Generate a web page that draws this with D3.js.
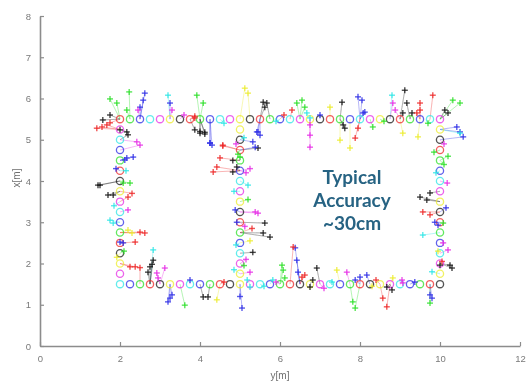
<!DOCTYPE html>
<html>
<head>
<meta charset="utf-8">
<script src="https://cdn.jsdelivr.net/npm/d3@7"></script>
<style>
    body { margin: 0; background: #fff; }
    .tick text { font-family: "Liberation Sans", Arial, sans-serif; }
</style>
</head>
<body>
<div id="chart-area"></div>
<script>
const BASE_WIDTH = 529;
const BASE_HEIGHT = 382;
// matlab colour order r g b c m y k
const SERIES_COLORS = ['#ee2a2a', '#2ee02a', '#2f2fe6', '#2fe6e6', '#e62fe6', '#ecec2f', '#1a1a1a'];

const X_TICKS = [0, 2, 4, 6, 8, 10, 12];
const Y_TICKS = [0, 1, 2, 3, 4, 5, 6, 7, 8];

// reference points (circles): rows at x = 5.5 and x = 1.5, columns at y = 2, 5, 10
const ROW_Y = [2, 2.25, 2.5, 2.75, 3, 3.25, 3.5, 3.75, 4, 4.25, 4.5, 4.75, 5, 5.25, 5.5, 5.75, 6,
    6.25, 6.5, 6.75, 7, 7.25, 7.5, 7.75, 8, 8.25, 8.5, 8.75, 9, 9.25, 9.5, 9.75, 10];
const COL_X = [5.25, 5, 4.75, 4.5, 4.25, 4, 3.75, 3.5, 3.25, 3, 2.75, 2.5, 2.25, 2, 1.75];
const TOP_ROW_X = 5.5;
const BOTTOM_ROW_X = 1.5;
const COLUMN_Y = [10, 2, 5]; // right, left, middle

// estimated positions (+): [y, x, colour index]
const ESTIMATES = [
    [1.42, 5.28, 0], [1.55, 5.31, 0], [1.67, 5.36, 0], [1.75, 5.41, 0],
    [1.75, 5.6, 6], [1.57, 5.48, 6], [2.0, 5.24, 6], [2.17, 5.19, 6], [2.2, 5.12, 6],
    [1.75, 5.99, 1], [1.92, 5.89, 1], [2.23, 6.16, 1], [2.17, 5.72, 1],
    [2.62, 6.13, 2], [2.58, 5.96, 2], [2.5, 5.79, 2], [2.45, 5.72, 4],
    [3.2, 6.08, 3], [3.25, 5.89, 2], [3.3, 5.72, 4],
    [3.92, 6.08, 1], [4.08, 5.89, 1], [3.87, 5.53, 0],
    [3.87, 5.24, 6], [4.0, 5.16, 6], [4.12, 5.14, 6],
    [4.3, 4.87, 2], [4.25, 4.92, 2], [4.57, 4.87, 0], [4.5, 4.56, 0], [4.42, 4.34, 0], [4.33, 4.22, 0],
    [4.82, 4.5, 6], [4.92, 4.34, 6], [4.82, 4.22, 6], [5.0, 4.58, 1], [4.95, 4.65, 1],
    [2.42, 4.95, 4], [2.5, 4.87, 4], [2.17, 4.56, 2], [2.33, 4.58, 2], [2.12, 4.51, 2],
    [1.45, 3.9, 6], [1.7, 3.66, 6], [1.83, 3.66, 6], [1.5, 3.9, 6],
    [2.08, 3.95, 1], [2.25, 3.95, 1], [2.3, 3.7, 0], [2.2, 3.61, 0],
    [1.75, 3.05, 3], [1.83, 2.98, 3], [2.0, 2.52, 2], [2.08, 2.5, 2],
    [2.2, 2.81, 5], [2.3, 2.74, 5], [2.5, 2.76, 0], [2.62, 2.74, 0], [2.38, 2.52, 0],
    [2.83, 2.33, 3], [2.75, 1.92, 6], [2.83, 2.08, 6], [2.7, 1.79, 6], [2.8, 1.98, 6],
    [2.25, 1.92, 0], [2.38, 1.92, 0], [2.5, 1.9, 0],
    [2.92, 1.77, 4], [2.95, 1.65, 4], [3.12, 1.89, 4],
    [3.25, 1.16, 2], [3.2, 1.07, 2], [3.3, 1.24, 2], [3.62, 0.99, 1],
    [4.08, 1.19, 6], [4.2, 1.19, 6], [4.42, 1.12, 5],
    [5.0, 1.2, 2], [5.05, 0.92, 2], [5.25, 1.79, 4],
    [6.05, 1.96, 1], [6.08, 1.84, 1], [6.38, 2.38, 2], [6.42, 2.08, 2], [6.45, 1.79, 2],
    [6.33, 2.4, 0], [6.55, 1.67, 0], [6.62, 1.72, 0],
    [6.92, 1.89, 6], [6.82, 1.6, 6], [6.75, 1.43, 6], [6.12, 1.65, 1], [5.82, 1.6, 3],
    [7.42, 1.84, 5], [7.67, 1.79, 4], [7.88, 1.6, 2], [8.0, 1.67, 2], [8.17, 1.72, 2],
    [7.82, 1.07, 1], [7.88, 0.92, 1], [8.57, 1.16, 0], [8.67, 0.95, 0],
    [8.67, 1.43, 6], [8.8, 1.36, 6], [8.82, 1.65, 5], [9.05, 1.6, 4], [9.07, 1.53, 4],
    [9.37, 1.55, 2], [9.75, 1.24, 2], [9.8, 1.16, 2], [9.75, 1.04, 1],
    [10.0, 1.96, 6], [10.25, 1.96, 6], [10.3, 1.89, 6],
    [5.38, 3.25, 4], [5.45, 3.22, 4], [5.62, 2.98, 6], [5.75, 2.64, 6], [5.58, 2.74, 6],
    [5.25, 2.55, 5], [5.32, 2.27, 6], [5.18, 1.6, 3], [5.25, 1.43, 3], [4.92, 3.0, 2],
    [5.45, 5.19, 2], [5.32, 4.95, 2], [5.45, 4.8, 6], [5.25, 4.3, 4], [5.2, 3.9, 3],
    [9.5, 3.61, 6], [9.67, 3.54, 6], [9.75, 3.71, 6], [9.57, 3.25, 0], [9.75, 3.18, 0],
    [9.87, 3.0, 2], [9.95, 2.93, 2], [10.08, 2.98, 1], [9.57, 2.69, 3],
    [10.08, 2.5, 4], [10.2, 2.33, 4], [9.95, 2.3, 5], [10.18, 3.95, 4],
    [10.12, 5.72, 6], [10.2, 5.65, 6], [10.32, 5.96, 1], [10.5, 5.89, 1],
    [10.42, 5.31, 2], [10.5, 5.19, 2], [10.58, 5.07, 2], [10.5, 5.16, 3],
    [10.2, 4.6, 1], [10.1, 4.4, 1],
    [5.12, 6.25, 5], [5.2, 6.13, 5], [5.58, 5.91, 6], [5.67, 5.89, 6], [5.62, 5.79, 6],
    [6.42, 5.89, 1], [6.55, 5.96, 1], [6.62, 5.79, 1], [6.3, 5.72, 0],
    [6.67, 5.65, 3], [6.75, 5.53, 3], [7.25, 5.79, 5],
    [7.55, 5.91, 6], [7.58, 5.36, 6], [7.62, 5.28, 6],
    [7.95, 6.04, 2], [8.05, 5.96, 2], [8.12, 5.67, 2], [8.08, 5.65, 2],
    [6.75, 5.36, 4], [6.75, 5.11, 4], [6.75, 4.82, 4],
    [7.95, 5.28, 0], [7.88, 5.04, 0], [8.32, 5.31, 1], [7.5, 4.99, 5], [7.75, 4.8, 5],
    [8.8, 6.08, 3], [8.82, 5.89, 4], [8.88, 5.72, 4],
    [9.12, 6.2, 6], [9.17, 5.89, 6], [9.07, 5.65, 6], [9.3, 5.65, 6],
    [9.5, 5.89, 0], [9.5, 5.72, 0], [9.82, 6.08, 0], [9.42, 5.65, 0],
    [9.07, 5.16, 5], [9.45, 5.07, 5],
    [4.25, 4.92, 2], [4.57, 4.85, 0], [5.42, 5.19, 2], [5.5, 5.11, 2], [5.38, 4.82, 2],
    [3.87, 5.57, 0], [4.0, 5.2, 6], [4.12, 5.18, 6],
    [5.1, 5.05, 3], [4.9, 4.9, 4], [5.15, 4.2, 4], [4.85, 3.75, 3], [5.2, 3.55, 1],
    [4.88, 3.3, 2], [5.12, 2.9, 4], [5.3, 2.85, 0], [4.9, 2.45, 3], [5.15, 2.1, 4],
    [4.85, 1.85, 3], [5.1, 1.95, 1],
    [2.15, 4.25, 3], [1.9, 4.3, 2], [2.2, 3.3, 4], [1.85, 3.4, 3], [2.1, 2.3, 1], [1.92, 2.15, 5],
    [9.85, 4.7, 1], [10.1, 4.9, 4], [9.9, 4.2, 3], [10.15, 3.35, 2], [10.05, 2.05, 0], [9.8, 1.8, 3],
    [3.75, 1.6, 2], [4.6, 1.55, 0], [5.6, 1.45, 3], [5.9, 1.55, 4], [7.1, 1.4, 4],
    [7.3, 1.55, 3], [8.3, 1.45, 5], [8.4, 1.6, 0],
    [3.6, 5.6, 4], [4.6, 5.4, 3], [5.9, 5.45, 3], [6.1, 5.6, 0], [7.0, 5.6, 2],
    [8.6, 5.45, 1], [9.7, 5.4, 1]
];

const NOTE_LINES = ["Typical", "Accuracy", "~30cm"];

function referencePoints() {
    const refs = [];
    ROW_Y.forEach((y) => refs.push({ y: y, x: TOP_ROW_X }));
    COL_X.forEach((x) => refs.push({ y: COLUMN_Y[0], x: x }));
    ROW_Y.slice().reverse().forEach((y) => refs.push({ y: y, x: BOTTOM_ROW_X }));
    COL_X.slice().reverse().forEach((x) => refs.push({ y: COLUMN_Y[1], x: x }));
    COL_X.forEach((x) => refs.push({ y: COLUMN_Y[2], x: x }));
    refs.forEach((d, i) => { d.c = i % SERIES_COLORS.length; });
    return refs;
}

function renderChart() {
    const margin = { top: 16, right: 9, bottom: 36, left: 40 };
    const height = BASE_HEIGHT - margin.top - margin.bottom;

    const root = d3.select("#chart-area").append("svg")
        .attr("width", BASE_WIDTH)
        .attr("height", BASE_HEIGHT);

    const defs = root.append("defs");
    defs.append("filter").attr("id", "soft")
        .append("feGaussianBlur").attr("stdDeviation", 0.6);
    defs.append("filter").attr("id", "softer")
        .append("feGaussianBlur").attr("stdDeviation", 0.4);

    const frame = root.append("g").attr("filter", "url(#softer)");
    const svg = root.append("g")
        .attr("transform", "translate(" + margin.left + "," + margin.top + ")")
        .attr("filter", "url(#soft)");

    const x = d3.scaleLinear().domain([0, 12]).range([0, 480]);
    const y = d3.scaleLinear().domain([0, 8]).range([height, 0]);

    const refs = referencePoints();
    const nearest = (e) => {
        let best = refs[0], bd = Infinity;
        refs.forEach((r) => {
            const dd = (r.y - e[0]) * (r.y - e[0]) + (r.x - e[1]) * (r.x - e[1]);
            if (dd < bd) { bd = dd; best = r; }
        });
        return best;
    };

    svg.selectAll("line.link")
        .data(ESTIMATES)
        .enter()
        .append("line")
        .attr("class", "link")
        .attr("x1", (d) => x(d[0]))
        .attr("y1", (d) => y(d[1]))
        .attr("x2", (d) => x(nearest(d).y))
        .attr("y2", (d) => y(nearest(d).x))
        .attr("stroke", (d) => SERIES_COLORS[d[2]])
        .attr("stroke-opacity", 0.5)
        .attr("stroke-width", 0.7);

    svg.selectAll("circle.ref")
        .data(refs)
        .enter()
        .append("circle")
        .attr("class", "ref")
        .attr("cx", (d) => x(d.y))
        .attr("cy", (d) => y(d.x))
        .attr("r", 3.6)
        .attr("fill", "none")
        .attr("stroke", (d) => SERIES_COLORS[d.c])
        .attr("stroke-opacity", 0.75)
        .attr("stroke-width", 1.3);

    const plus = svg.selectAll("g.est")
        .data(ESTIMATES)
        .enter()
        .append("g")
        .attr("class", "est")
        .attr("transform", (d) => "translate(" + x(d[0]) + "," + y(d[1]) + ")")
        .attr("stroke", (d) => SERIES_COLORS[d[2]])
        .attr("stroke-opacity", 0.8)
        .attr("stroke-width", 1.4);
    plus.append("line").attr("x1", -3).attr("x2", 3);
    plus.append("line").attr("y1", -3).attr("y2", 3);

    // axes, matlab style with inward ticks
    const xAxis = frame.append("g")
        .attr("transform", "translate(" + margin.left + "," + (margin.top + height) + ")")
        .call(d3.axisBottom(x).tickValues(X_TICKS).tickSizeInner(-4).tickSizeOuter(0).tickPadding(9));
    const yAxis = frame.append("g")
        .attr("transform", "translate(" + margin.left + "," + margin.top + ")")
        .call(d3.axisLeft(y).tickValues(Y_TICKS).tickSizeInner(-4).tickSizeOuter(0).tickPadding(9));

    [xAxis, yAxis].forEach((a) => {
        a.select(".domain").attr("stroke", "#8c8c8c").attr("stroke-width", 1.6);
        a.selectAll(".tick line").attr("stroke", "#8c8c8c").attr("stroke-width", 1.2);
        a.selectAll(".tick text").attr("fill", "#7a7a7a").style("font-size", "9.5px");
    });

    frame.append("text")
        .attr("x", margin.left + x(6))
        .attr("y", 379)
        .attr("text-anchor", "middle")
        .attr("fill", "#6e6e6e")
        .style("font-family", "Liberation Sans, Arial, sans-serif")
        .style("font-size", "10px")
        .text("y[m]");

    frame.append("text")
        .attr("transform", "translate(20," + 178 + ")rotate(-90)")
        .attr("text-anchor", "middle")
        .attr("fill", "#6e6e6e")
        .style("font-family", "Liberation Sans, Arial, sans-serif")
        .style("font-size", "10px")
        .text("x[m]");

    frame.append("g")
        .selectAll("text")
        .data(NOTE_LINES)
        .enter()
        .append("text")
        .attr("x", 352)
        .attr("y", (d, i) => 184 + i * 23)
        .attr("text-anchor", "middle")
        .attr("fill", "#276383")
        .style("font-family", "Lato, sans-serif")
        .style("font-weight", "bold")
        .style("font-size", "19px")
        .text((d) => d);
}

renderChart();
</script>
</body>
</html>
